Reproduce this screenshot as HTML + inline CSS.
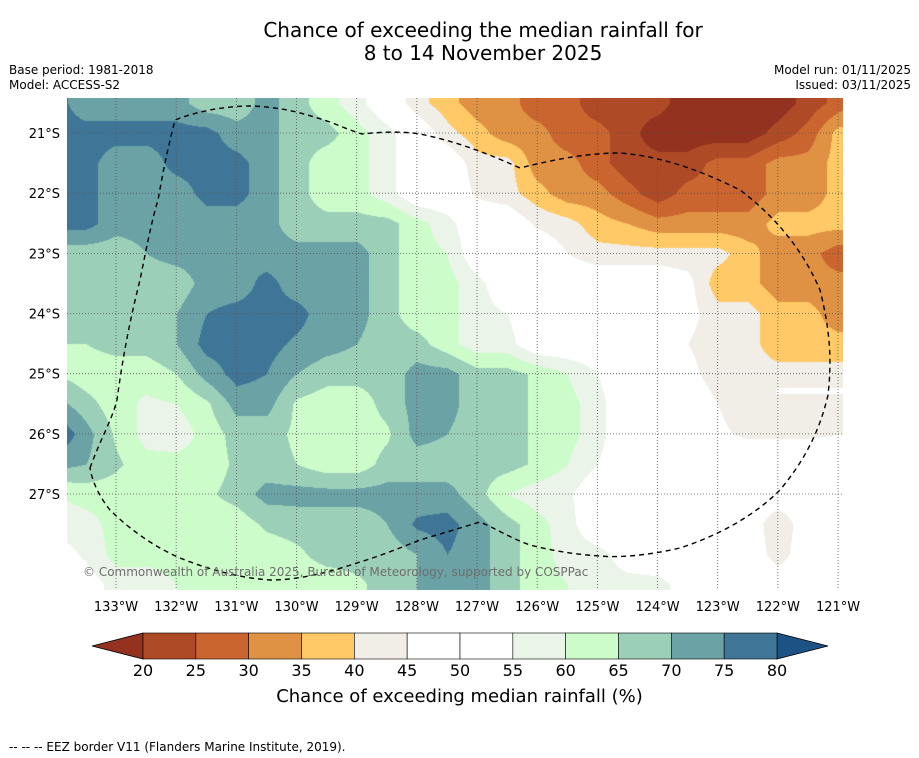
<!DOCTYPE html>
<html><head><meta charset="utf-8">
<style>
body{margin:0;background:#fff;width:919px;height:758px;position:relative;font-family:"DejaVu Sans","Liberation Sans",sans-serif;overflow:hidden}
.t{position:absolute;white-space:nowrap}
</style></head><body>
<div class="t" style="left:0;width:966px;top:19px;text-align:center;font-size:20px;line-height:23px">Chance of exceeding the median rainfall for<br>8 to 14 November 2025</div>
<div class="t" style="left:9px;top:63px;font-size:12px;line-height:15px">Base period: 1981-2018<br>Model: ACCESS-S2</div>
<div class="t" style="right:8px;top:63px;font-size:12px;line-height:15px;text-align:right">Model run: 01/11/2025<br>Issued: 03/11/2025</div>
<canvas id="map" width="776" height="492" style="position:absolute;left:67px;top:98px"></canvas>
<svg id="ov" width="919" height="758" style="position:absolute;left:0;top:0;font-family:'DejaVu Sans','Liberation Sans',sans-serif"></svg>
<div class="t" style="left:83px;top:565px;font-size:12px;color:#6e6e6e">© Commonwealth of Australia 2025, Bureau of Meteorology, supported by COSPPac</div>
<div class="t" style="left:0;width:919px;text-align:center;top:686px;font-size:18px">Chance of exceeding median rainfall (%)</div>
<div class="t" style="left:9px;top:740px;font-size:12px">--  --  -- EEZ border V11 (Flanders Marine Institute, 2019).</div>
<script>
const lonTicks=[-133,-132,-131,-130,-129,-128,-127,-126,-125,-124,-123,-122,-121];
const latTicks=[-21,-22,-23,-24,-25,-26,-27];
const cbLevels=[20,25,30,35,40,45,50,55,60,65,70,75,80];
const cbColors=['#93331f','#ae4a25','#cb6530','#df9243','#fec966','#f1ede7','#ffffff','#ffffff','#eaf4e9','#ccfcca','#9ccfb8','#6aa2a5','#3f7697','#1d5384'];
const gridLon0=-134, gridLat0=-20, gridStep=0.5;
const grid=[
[77,72,72,72,72,67,67,72,67,62,57,50,42,37,32,32,27,27,22,22,22,17,17,17,17,22,27,32],
[77,72,72,72,72,67,67,72,67,62,57,50,42,37,32,32,27,27,22,22,22,17,17,17,17,22,27,32],
[77,77,77,77,77,77,72,72,67,67,62,57,50,42,37,32,32,27,27,22,17,17,17,17,22,27,37,37],
[77,77,72,72,77,77,77,72,67,62,62,57,50,50,42,42,32,32,27,22,22,22,27,27,32,32,37,37],
[80,77,72,72,72,77,77,72,67,62,62,57,50,50,44,42,37,32,32,27,22,27,27,27,32,32,37,37],
[77,77,72,72,70,72,72,72,67,67,67,67,62,57,50,50,44,42,37,35,32,32,32,32,37,37,37,37],
[67,67,67,70,72,72,75,72,72,72,72,67,62,60,50,50,50,45,42,42,42,42,42,37,32,32,27,27],
[67,67,67,67,67,72,72,77,72,72,72,67,62,62,57,50,50,50,50,50,50,47,37,37,32,32,32,32],
[67,67,67,67,70,75,77,77,77,72,72,67,62,62,57,55,50,50,50,50,50,47,42,42,37,37,32,32],
[65,65,67,67,70,77,77,77,74,72,70,67,67,62,57,57,50,50,50,50,50,45,42,42,37,37,37,37],
[65,62,62,62,65,72,77,75,70,67,67,67,72,72,67,67,64,60,55,50,50,47,42,42,42,42,42,42],
[72,67,62,59,60,64,72,72,64,62,62,67,72,72,67,67,64,62,57,50,50,50,45,42,42,42,42,42],
[80,72,64,58,57,62,67,67,64,62,62,64,72,70,67,67,64,62,57,50,50,50,46,44,44,44,45,45],
[72,70,66,62,62,62,66,67,65,62,62,67,67,67,67,67,64,60,55,50,50,50,50,50,50,50,50,50],
[60,62,62,62,62,64,67,72,72,72,72,72,72,72,67,60,57,56,50,50,50,50,50,50,50,50,50,50],
[57,58,62,62,62,62,62,66,67,67,67,70,76,77,72,67,62,57,50,50,50,50,50,50,40,50,50,50],
[52,56,62,62,62,62,62,62,64,67,67,67,70,75,72,67,62,58,57,52,50,50,50,50,42,50,50,50],
[50,52,57,57,60,62,62,62,62,62,64,67,70,75,72,67,62,60,57,57,57,52,50,50,50,50,50,50],
[50,52,57,57,60,62,62,62,62,62,64,67,70,75,72,67,62,60,57,57,57,52,50,50,50,50,50,50]
];
const PX=60.17;
function xOf(lon){return 116+(lon+133)*PX;}
function yOf(lat){return 133+(-21-lat)*PX;}
function hex(c){return [parseInt(c.slice(1,3),16),parseInt(c.slice(3,5),16),parseInt(c.slice(5,7),16)];}
(function(){
 const cv=document.getElementById('map'),ctx=cv.getContext('2d');
 const W=cv.width,H=cv.height,img=ctx.createImageData(W,H);
 const rgb=cbColors.map(hex);
 const nr=grid.length,nc=grid[0].length;
 for(let py=0;py<H;py++){
  const lat=-21-((py+98)-133)/PX;
  let fy=(gridLat0-lat)/gridStep; fy=Math.max(0,Math.min(nr-1.001,fy));
  const j=Math.floor(fy),ty=fy-j;
  for(let px=0;px<W;px++){
   const lon=-133+((px+67)-116)/PX;
   let fx=(lon-gridLon0)/gridStep; fx=Math.max(0,Math.min(nc-1.001,fx));
   const i=Math.floor(fx),tx=fx-i;
   const v=(grid[j][i]*(1-tx)+grid[j][i+1]*tx)*(1-ty)+(grid[j+1][i]*(1-tx)+grid[j+1][i+1]*tx)*ty;
   let k=0;while(k<cbLevels.length&&v>=cbLevels[k])k++;
   const c=rgb[k],o=(py*W+px)*4;
   img.data[o]=c[0];img.data[o+1]=c[1];img.data[o+2]=c[2];img.data[o+3]=255;
  }
 }
 ctx.putImageData(img,0,0);
 ctx.fillStyle='#ffffff';ctx.fillRect(709,290,67,6);
})();
(function(){
 const NS='http://www.w3.org/2000/svg',svg=document.getElementById('ov');
 function mk(t,a){const e=document.createElementNS(NS,t);for(const k in a)e.setAttribute(k,a[k]);svg.appendChild(e);return e;}
 lonTicks.forEach(l=>{
  const x=xOf(l);
  const g=mk('line',{x1:x,y1:98,x2:x,y2:590,stroke:'#555','stroke-width':0.8,'stroke-dasharray':'1,2'});
  
  
  const t=mk('text',{x:x,y:611,'text-anchor':'middle','font-size':13,fill:'#000'});
  t.textContent=Math.abs(l)+'°W';
  
  
 });
 latTicks.forEach(l=>{
  const y=yOf(l);
  const g=mk('line',{x1:67,y1:y,x2:843,y2:y,stroke:'#555','stroke-width':0.8,'stroke-dasharray':'1,2'});
  
  
  const t=mk('text',{x:60,y:y+5,'text-anchor':'end','font-size':13,fill:'#000'});
  t.textContent=Math.abs(l)+'°S';
  
  
 });
 const eez=mk('path',{d:'M90,468 C100,440 112,420 117,400 C125,340 135,300 140,280 C148,240 152,220 158,200 C165,160 170,140 175,120 C200,110 230,106 250,106 C280,107 300,112 330,122 C345,128 355,132 362,134 C380,132 400,131 420,134 C450,140 480,150 520,168 C560,158 590,153 620,153 C660,156 700,170 740,190 C780,220 805,255 820,290 C830,330 832,360 828,395 C820,430 805,460 780,490 C755,515 720,535 680,548 C650,555 620,558 600,556 C570,554 550,550 530,545 C510,538 495,528 480,522 C460,528 440,534 420,540 C400,548 380,556 360,562 C330,572 300,580 270,580 C240,578 210,570 180,558 C150,545 125,525 110,510 C98,495 92,480 90,468 Z',fill:'none',stroke:'#000','stroke-width':1.4,'stroke-dasharray':'5,4'});
 
 
 const x0=143,x1=777,y0=633,y1=659,bw=(x1-x0)/(cbLevels.length-1);
 const lo=mk('polygon',{points:`${x0},${y0} ${x0},${y1} 92,${(y0+y1)/2}`,fill:cbColors[0],stroke:'#000','stroke-width':0.8});
 
 
 const hi=mk('polygon',{points:`${x1},${y0} ${x1},${y1} 828,${(y0+y1)/2}`,fill:cbColors[cbColors.length-1],stroke:'#000','stroke-width':0.8});
 
 
 for(let i=0;i<cbLevels.length-1;i++){
  const r=mk('rect',{x:x0+i*bw,y:y0,width:bw,height:y1-y0,fill:cbColors[i+1],stroke:'#000','stroke-width':0.6});
  
  
 }
 cbLevels.forEach((v,i)=>{
  const t=mk('text',{x:x0+i*bw,y:676,'text-anchor':'middle','font-size':16,fill:'#000'});
  t.textContent=v;
  
  
 });
})();
</script>
</body></html>
